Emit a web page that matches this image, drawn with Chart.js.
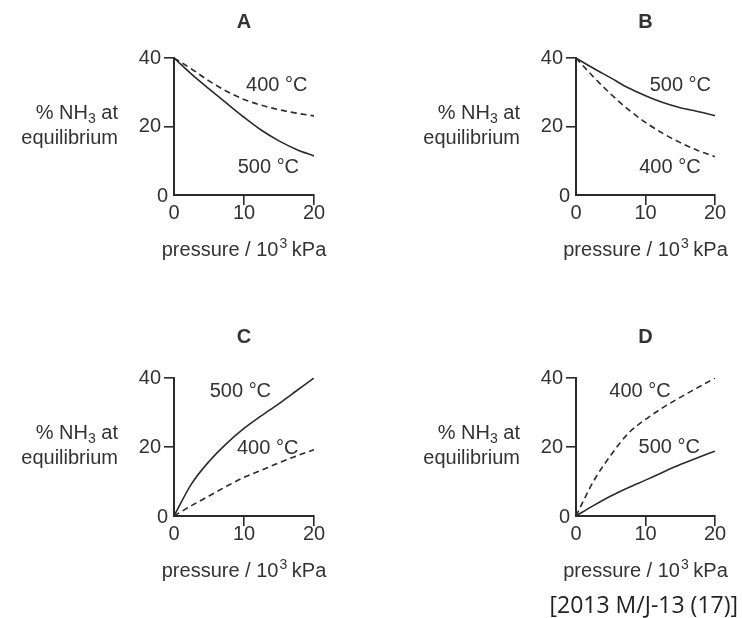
<!DOCTYPE html>
<html>
<head>
<meta charset="utf-8">
<script src="https://cdn.jsdelivr.net/npm/chart.js@4.4.1/dist/chart.umd.min.js"></script>
<style>
  html, body { margin: 0; padding: 0; background: #fff; }
  #wrap { position: relative; width: 742px; height: 618px; overflow: hidden; }
  #wrap canvas { position: absolute; left: 0; top: 0; }
  #source { position: absolute; right: 4px; top: 588px; font-family: 'Open Sans', sans-serif; font-size: 23px; color: #222; }
</style>
</head>
<body>
<div id="wrap">
  <canvas id="chartA" width="742" height="618"></canvas>
  <canvas id="chartB" width="742" height="618"></canvas>
  <canvas id="chartC" width="742" height="618"></canvas>
  <canvas id="chartD" width="742" height="618"></canvas>
  <div id="source">[2013 M/J-13 (17)]</div>
</div>
<script>
// data (pressure in 10^3 kPa, % NH3)
const pressure = [0, 2.5, 5, 7.5, 10, 12.5, 15, 17.5, 20];
const xTicks = [0, 10, 20];
const yTicks = [0, 20, 40];

const a400 = [40, 36.8, 33.3, 30.3, 27.9, 26.2, 24.9, 23.9, 23.1];
const a500 = [40, 35.3, 31.0, 26.8, 22.7, 18.9, 15.8, 13.3, 11.4];
const b500 = [40, 37.0, 34.2, 31.3, 29.0, 27.0, 25.5, 24.4, 23.2];
const b400 = [40, 34.5, 29.5, 25.0, 21.2, 18.0, 15.3, 13.0, 11.2];
const c500 = [0, 9.3, 15.8, 21.0, 25.4, 29.1, 32.6, 36.3, 40.0];
const c400 = [0, 3.0, 5.8, 8.6, 11.2, 13.3, 15.4, 17.4, 19.2];
const d400 = [0, 10.0, 17.6, 23.9, 28.0, 31.4, 34.4, 37.2, 40.0];
const d500 = [0, 3.0, 5.8, 8.2, 10.4, 12.7, 14.9, 16.9, 18.8];

const FONT = "'Liberation Sans', Arial, sans-serif";
const INK = '#2b2b2b';
const TEXT = '#333';
const DASH = [6, 4];

const panels = [
    { id: 'chartA', title: 'A', area: { left: 174, right: 314, top: 58, bottom: 195 }, titleGap: 36,
      series: [{ data: a400, dash: DASH }, { data: a500, dash: [] }],
      notes: [{ text: '400 °C', x: 10.3, y: 32.1 }, { text: '500 °C', x: 9.1, y: 7.9 }] },
    { id: 'chartB', title: 'B', area: { left: 576, right: 715, top: 58, bottom: 195 }, titleGap: 36,
      series: [{ data: b500, dash: [] }, { data: b400, dash: DASH }],
      notes: [{ text: '500 °C', x: 10.6, y: 32.1 }, { text: '400 °C', x: 9.1, y: 7.9 }] },
    { id: 'chartC', title: 'C', area: { left: 174, right: 314, top: 378, bottom: 516 }, titleGap: 41,
      series: [{ data: c500, dash: [] }, { data: c400, dash: DASH }],
      notes: [{ text: '500 °C', x: 5.1, y: 36 }, { text: '400 °C', x: 9.0, y: 19.7 }] },
    { id: 'chartD', title: 'D', area: { left: 576, right: 715, top: 378, bottom: 516 }, titleGap: 41,
      series: [{ data: d400, dash: DASH }, { data: d500, dash: [] }],
      notes: [{ text: '400 °C', x: 4.8, y: 36 }, { text: '500 °C', x: 9.0, y: 20 }] }
];

const Y_AXIS_W = 40;
const X_AXIS_H = 40;

// Підписи: літера, вісь Y, вісь X, позначки температур
const textPlugin = {
    id: 'panelText',
    afterDraw(chart, args, opts) {
        const { ctx, chartArea: ca, scales } = chart;
        const p = opts.panel;
        ctx.save();
        ctx.fillStyle = TEXT;
        ctx.textBaseline = 'middle';

        // letter
        ctx.font = 'bold 20px ' + FONT;
        ctx.textAlign = 'center';
        ctx.fillText(p.title, (ca.left + ca.right) / 2, ca.top - p.titleGap);

        // y "0" sits tight against the origin (no tick mark there)
        ctx.font = '20px ' + FONT;
        ctx.textAlign = 'right';
        ctx.fillText('0', ca.left - 6, scales.y.getPixelForValue(0) + 1);

        // y label: "% NH3 at" / "equilibrium"
        const rx = ca.left - 56;
        const cy = ca.top + 68;
        ctx.textAlign = 'left';
        const w1 = ctx.measureText('% NH').width;
        ctx.font = '14px ' + FONT;
        const w2 = ctx.measureText('3').width;
        ctx.font = '20px ' + FONT;
        const w3 = ctx.measureText(' at').width;
        let x0 = rx - (w1 + w2 + w3);
        ctx.fillText('% NH', x0, cy - 12.5);
        ctx.font = '14px ' + FONT;
        ctx.fillText('3', x0 + w1, cy - 7);
        ctx.font = '20px ' + FONT;
        ctx.fillText(' at', x0 + w1 + w2, cy - 12.5);
        ctx.textAlign = 'right';
        ctx.fillText('equilibrium', rx, cy + 12.5);

        // x label: "pressure / 10³ kPa"
        ctx.textAlign = 'left';
        const xa = 'pressure / 10', xc = ' kPa';
        const wa = ctx.measureText(xa).width;
        ctx.font = '14px ' + FONT;
        const wb = ctx.measureText('3').width;
        ctx.font = '20px ' + FONT;
        const wc = ctx.measureText(xc).width;
        const lx = (ca.left + ca.right) / 2 - (wa + wb + wc) / 2;
        const ly = ca.bottom + 55;
        ctx.fillText(xa, lx, ly);
        ctx.font = '14px ' + FONT;
        ctx.fillText('3', lx + wa + 1, ly - 6);
        ctx.font = '20px ' + FONT;
        ctx.fillText(xc, lx + wa + wb, ly);

        // temperature notes
        p.notes.forEach(n => {
            ctx.fillText(n.text, scales.x.getPixelForValue(n.x), scales.y.getPixelForValue(n.y));
        });
        ctx.restore();
    }
};

panels.forEach(p => {
    const canvas = document.getElementById(p.id);
    new Chart(canvas.getContext('2d'), {
        type: 'line',
        data: {
            datasets: p.series.map(s => ({
                data: pressure.map((x, i) => ({ x: x, y: s.data[i] })),
                borderColor: INK,
                borderWidth: 1.6,
                borderDash: s.dash,
                pointRadius: 0,
                cubicInterpolationMode: 'monotone',
                fill: false
            }))
        },
        options: {
            responsive: false,
            animation: false,
            devicePixelRatio: 1,
            events: [],
            layout: {
                padding: {
                    left: p.area.left - Y_AXIS_W,
                    right: 742 - p.area.right,
                    top: p.area.top,
                    bottom: 618 - p.area.bottom - X_AXIS_H
                }
            },
            plugins: {
                legend: { display: false },
                tooltip: { enabled: false },
                panelText: { panel: p }
            },
            scales: {
                x: {
                    type: 'linear',
                    min: 0, max: 20,
                    afterBuildTicks: sc => { sc.ticks = xTicks.map(v => ({ value: v })); },
                    afterFit: sc => { sc.height = X_AXIS_H; },
                    border: { display: true, color: INK, width: 2 },
                    grid: {
                        drawOnChartArea: false, drawTicks: true, tickLength: 10, lineWidth: 1.6,
                        tickColor: c => c.tick && c.tick.value === 0 ? 'rgba(0,0,0,0)' : INK
                    },
                    ticks: { color: TEXT, padding: -2, maxRotation: 0, font: { family: FONT, size: 20, lineHeight: 1 } }
                },
                y: {
                    type: 'linear',
                    min: 0, max: 40,
                    afterBuildTicks: sc => { sc.ticks = yTicks.map(v => ({ value: v })); },
                    afterFit: sc => { sc.width = Y_AXIS_W; },
                    border: { display: true, color: INK, width: 2 },
                    grid: {
                        drawOnChartArea: false, drawTicks: true, tickLength: 10, lineWidth: 1.6,
                        tickColor: c => c.tick && c.tick.value === 0 ? 'rgba(0,0,0,0)' : INK
                    },
                    ticks: {
                        color: TEXT, padding: 3, font: { family: FONT, size: 20, lineHeight: 1 },
                        // the 0 is drawn by the text plugin, closer to the origin
                        callback: v => (v === 0 ? '' : String(v))
                    }
                }
            }
        },
        plugins: [textPlugin]
    });
});
</script>
</body>
</html>
